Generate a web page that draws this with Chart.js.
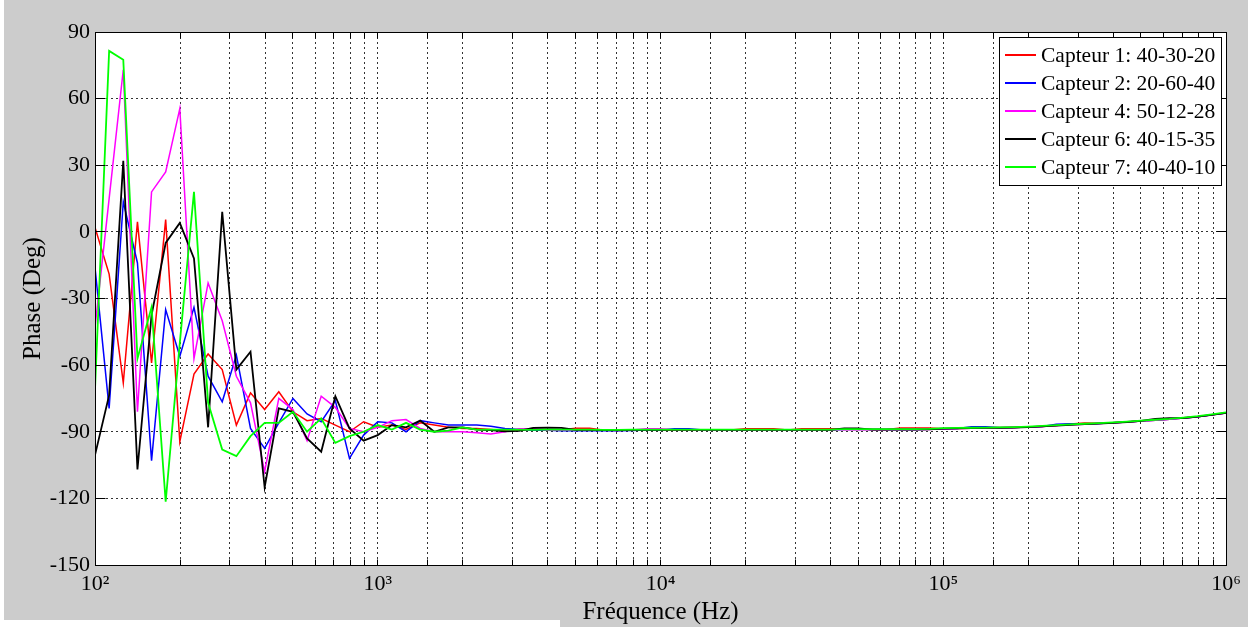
<!DOCTYPE html>
<html>
<head>
<meta charset="utf-8">
<title>Phase vs Fréquence</title>
<script src="https://cdn.jsdelivr.net/npm/chart.js@4.4.0/dist/chart.umd.min.js"></script>
<style>
    html, body { margin: 0; padding: 0; background: #ffffff; }
    #phaseChart { display: block; }
</style>
</head>
<body>
<canvas id="phaseChart" width="1248" height="627"></canvas>
<script>
// Frequencies (Hz), 20 points per decade from 10^2 to 10^6
var freqs = [
    100, 112.2, 125.9, 141.3, 158.5, 177.8, 199.5, 223.9, 251.2, 281.8,
    316.2, 354.8, 398.1, 446.7, 501.2, 562.3, 631, 707.9, 794.3, 891.3,
    1000, 1122, 1259, 1413, 1585, 1778, 1995, 2239, 2512, 2818,
    3162, 3548, 3981, 4467, 5012, 5623, 6310, 7079, 7943, 8913,
    10000, 11220, 12590, 14130, 15850, 17780, 19950, 22390, 25120, 28180,
    31620, 35480, 39810, 44670, 50120, 56230, 63100, 70790, 79430, 89130,
    100000, 112200, 125900, 141300, 158500, 177800, 199500, 223900, 251200, 281800,
    316200, 354800, 398100, 446700, 501200, 562300, 631000, 707900, 794300, 891300,
    1000000
];

// Phase (deg) for each sensor
var capteur1 = [
    2, -19, -68, 4.5, -59, 5.5, -94.5, -64, -55, -62,
    -87, -72.5, -80, -72, -81, -85, -84, -87, -90, -85.5,
    -88, -87, -89, -86, -87, -88, -88.5, -88.5, -89, -89.5,
    -89.1, -89.2, -89.2, -89.1, -88.4, -88.4, -89.3, -89.4, -89.2, -89.2,
    -89.2, -89.2, -89.2, -89.2, -89.2, -89.2, -88.6, -88.6, -88.6, -89.2,
    -88.6, -88.6, -88.6, -89, -89, -89, -89, -88.3, -88.3, -88.3,
    -88.6, -88.5, -88.4, -88.3, -88.2, -88.1, -87.9, -87.6, -87.2, -86.5,
    -86.1, -86.2, -86, -85.6, -85.2, -84.8, -84.4, -83.8, -83.2, -82.4,
    -81.5
];
var capteur2 = [
    -16, -79.5, 13.5, -14, -103, -35, -56, -34, -65, -76.5,
    -55.5, -88.5, -97.5, -86, -75, -82, -85.5, -76, -102, -91.5,
    -85.5, -86, -90, -85, -86, -87, -87, -87, -87.5, -88.5,
    -89, -89.3, -89.3, -89.5, -89.5, -89.5, -89.6, -89.6, -89.4, -89.2,
    -89.2, -88.6, -88.6, -89.2, -89.2, -89.2, -89.2, -89.2, -89.2, -89.2,
    -89.2, -89.2, -89.2, -89, -89, -89, -89, -89, -89, -88.9,
    -88.6, -88.5, -87.8, -87.8, -88.2, -88.1, -87.9, -87.6, -86.6, -86.4,
    -86.6, -86.3, -86, -85.6, -85.2, -84.8, -84.4, -83.8, -83.2, -82.4,
    -81.5
];
var capteur4 = [
    -43, 15, 73, -81, 18, 27, 55.5, -57, -23, -40,
    -65, -77, -108, -75, -80, -94, -74, -79, -88.5, -90,
    -88, -85, -84.5, -88.5, -90, -90, -90, -90.5, -91, -90,
    -88.6, -88.7, -89.2, -89.2, -89.2, -89.2, -89.3, -89.3, -89.2, -88.6,
    -88.6, -89.2, -89.2, -89.2, -89.2, -89.2, -89.2, -89.2, -89.2, -89.2,
    -89.2, -89.2, -89.2, -89, -89, -89, -89, -89, -89, -89,
    -88.6, -88.5, -88.4, -88.3, -88.2, -88.1, -87.9, -87.6, -87.2, -86.9,
    -86.6, -86.3, -86, -85.6, -85.2, -84.8, -84.4, -83.8, -83.2, -82.4,
    -81.5
];
var capteur6 = [
    -100.5, -73.5, 32, -107, -37.5, -5, 4, -12, -88, 9,
    -62, -54, -115, -79.5, -81, -93, -99, -74, -88.5, -94,
    -91.5, -87, -88, -85, -90, -88, -88, -89, -89.3, -89.8,
    -89.6, -88.3, -88.2, -88.3, -89.2, -89.2, -89.3, -89.3, -89.2, -89.2,
    -89.2, -89.2, -89.2, -89.2, -89.2, -89.2, -89.2, -89.2, -89.2, -89.2,
    -89.2, -89.2, -89.2, -88.5, -88.5, -89, -89, -89, -89, -88.9,
    -88.6, -88.5, -88.4, -88.3, -88.2, -88.1, -87.9, -87.6, -87.2, -86.9,
    -86.6, -86.3, -86, -85.6, -85.1, -84.2, -83.9, -83.8, -83.2, -82.4,
    -81.5
];
var capteur7 = [
    -71, 81.5, 77.5, -57, -34, -121.5, -50, 18, -77, -98,
    -101, -92, -86, -86, -81, -90, -84, -95, -92, -90,
    -87, -89, -86, -89, -90, -89.5, -88, -89, -89, -89,
    -89, -89.2, -89, -89, -89, -89, -89.2, -89.2, -89, -89,
    -89, -89, -89, -89, -89, -89, -89, -89, -89, -89,
    -89, -89, -89, -88.8, -88.8, -88.8, -88.8, -88.8, -88.8, -88.7,
    -88.4, -88.3, -88.2, -88.1, -88, -87.9, -87.7, -87.4, -87, -86.7,
    -86.4, -86.1, -85.8, -85.4, -85, -84.6, -84.2, -83.6, -83, -82.2,
    -81.3
];

var seriesNames = [
    'Capteur 1: 40-30-20',
    'Capteur 2: 20-60-40',
    'Capteur 4: 50-12-28',
    'Capteur 6: 40-15-35',
    'Capteur 7: 40-40-10'
];
var seriesColors = ['#ff0000', '#0000ff', '#ff00ff', '#000000', '#00ff00'];
var seriesValues = [capteur1, capteur2, capteur4, capteur6, capteur7];

// Axis ticks
var xTickLabels = { 100: '10²', 1000: '10³', 10000: '10⁴', 100000: '10⁵', 1000000: '10⁶' };
var yMin = -150, yMax = 90, yStep = 30;

var serif = '"Liberation Serif", "Times New Roman", serif';

function alignPx(p) {
    return Math.round(p - 0.5) + 0.5;
}

// Grey figure background, white axes, black frame and inward ticks (MATLAB look)
var figurePlugin = {
    id: 'figure',
    beforeDraw: function(chart) {
        var ctx = chart.ctx;
        var ca = chart.chartArea;
        ctx.save();
        ctx.fillStyle = '#ffffff';
        ctx.fillRect(0, 0, chart.width, chart.height);
        ctx.fillStyle = '#cccccc';
        ctx.fillRect(4, 0, chart.width - 4, chart.height);
        ctx.fillStyle = '#ffffff';
        ctx.fillRect(0, 620, 560, chart.height - 620);
        ctx.fillRect(ca.left, ca.top, ca.right - ca.left, ca.bottom - ca.top);
        ctx.restore();
    },
    afterDraw: function(chart) {
        var ctx = chart.ctx;
        var ca = chart.chartArea;
        var xs = chart.scales.x, ys = chart.scales.y;
        var l = alignPx(ca.left), r = alignPx(ca.right), t = alignPx(ca.top), b = alignPx(ca.bottom);
        ctx.save();
        ctx.strokeStyle = '#000000';
        ctx.lineWidth = 1;
        ctx.beginPath();
        xs.ticks.forEach(function(tk) {
            var px = alignPx(xs.getPixelForValue(tk.value));
            ctx.moveTo(px, b); ctx.lineTo(px, b - 6);
            ctx.moveTo(px, t); ctx.lineTo(px, t + 6);
        });
        ys.ticks.forEach(function(tk) {
            var py = alignPx(ys.getPixelForValue(tk.value));
            ctx.moveTo(l, py); ctx.lineTo(l + 10, py);
            ctx.moveTo(r, py); ctx.lineTo(r - 10, py);
        });
        ctx.stroke();
        ctx.strokeRect(l, t, r - l, b - t);

        // Legend box
        var bx = 999.5, by = 37.5, bw = 222, bh = 148;
        ctx.fillStyle = '#ffffff';
        ctx.fillRect(bx, by, bw, bh);
        ctx.strokeRect(bx, by, bw, bh);
        ctx.font = '21.5px ' + serif;
        ctx.textBaseline = 'middle';
        ctx.textAlign = 'left';
        for (var i = 0; i < seriesNames.length; i++) {
            var cy = 55 + i * 28;
            ctx.strokeStyle = seriesColors[i];
            ctx.lineWidth = 2;
            ctx.beginPath();
            ctx.moveTo(1005, cy);
            ctx.lineTo(1036, cy);
            ctx.stroke();
            ctx.fillStyle = '#000000';
            ctx.fillText(seriesNames[i], 1041, cy + 1);
        }
        ctx.restore();
    }
};

var datasets = seriesValues.map(function(vals, i) {
    return {
        label: seriesNames[i],
        data: freqs.map(function(f, j) { return { x: f, y: vals[j] }; }),
        borderColor: seriesColors[i],
        backgroundColor: seriesColors[i],
        borderWidth: (i >= 3) ? 1.8 : 1.5,
        pointRadius: 0,
        tension: 0,
        fill: false,
        order: seriesNames.length - 1 - i   // last sensor drawn on top
    };
});

var phaseChart = new Chart(document.getElementById('phaseChart').getContext('2d'), {
    type: 'line',
    data: { datasets: datasets },
    plugins: [figurePlugin],
    options: {
        responsive: false,
        animation: false,
        devicePixelRatio: 1,
        layout: { padding: { left: 0, top: 32, right: 22, bottom: 0 } },
        plugins: {
            legend: { display: false },
            tooltip: { enabled: false }
        },
        scales: {
            x: {
                type: 'logarithmic',
                position: 'bottom',
                min: 100,
                max: 1000000,
                afterFit: function(scale) { scale.height = 62; },
                border: { display: true, color: '#000000', width: 1, dash: [2, 3] },
                grid: { color: 'rgba(0,0,0,0.8)', lineWidth: 1, drawTicks: false },
                ticks: {
                    autoSkip: false,
                    maxRotation: 0,
                    padding: 6,
                    color: '#000000',
                    font: { family: serif, size: 22 },
                    callback: function(value) { return xTickLabels[Math.round(value)] || ''; }
                },
                title: {
                    display: true,
                    text: 'Fréquence (Hz)',
                    color: '#000000',
                    font: { family: serif, size: 25 },
                    padding: { top: 0, bottom: 0 }
                }
            },
            y: {
                type: 'linear',
                min: yMin,
                max: yMax,
                afterFit: function(scale) { scale.width = 95; },
                border: { display: true, color: '#000000', width: 1, dash: [2, 3] },
                grid: { color: 'rgba(0,0,0,0.8)', lineWidth: 1, drawTicks: false },
                ticks: {
                    stepSize: yStep,
                    padding: 5,
                    color: '#000000',
                    font: { family: serif, size: 22 },
                    callback: function(value) { return String(value); }
                },
                title: {
                    display: true,
                    text: 'Phase (Deg)',
                    color: '#000000',
                    font: { family: serif, size: 25 },
                    padding: { top: 18, bottom: 0 }
                }
            }
        }
    }
});
</script>
</body>
</html>
